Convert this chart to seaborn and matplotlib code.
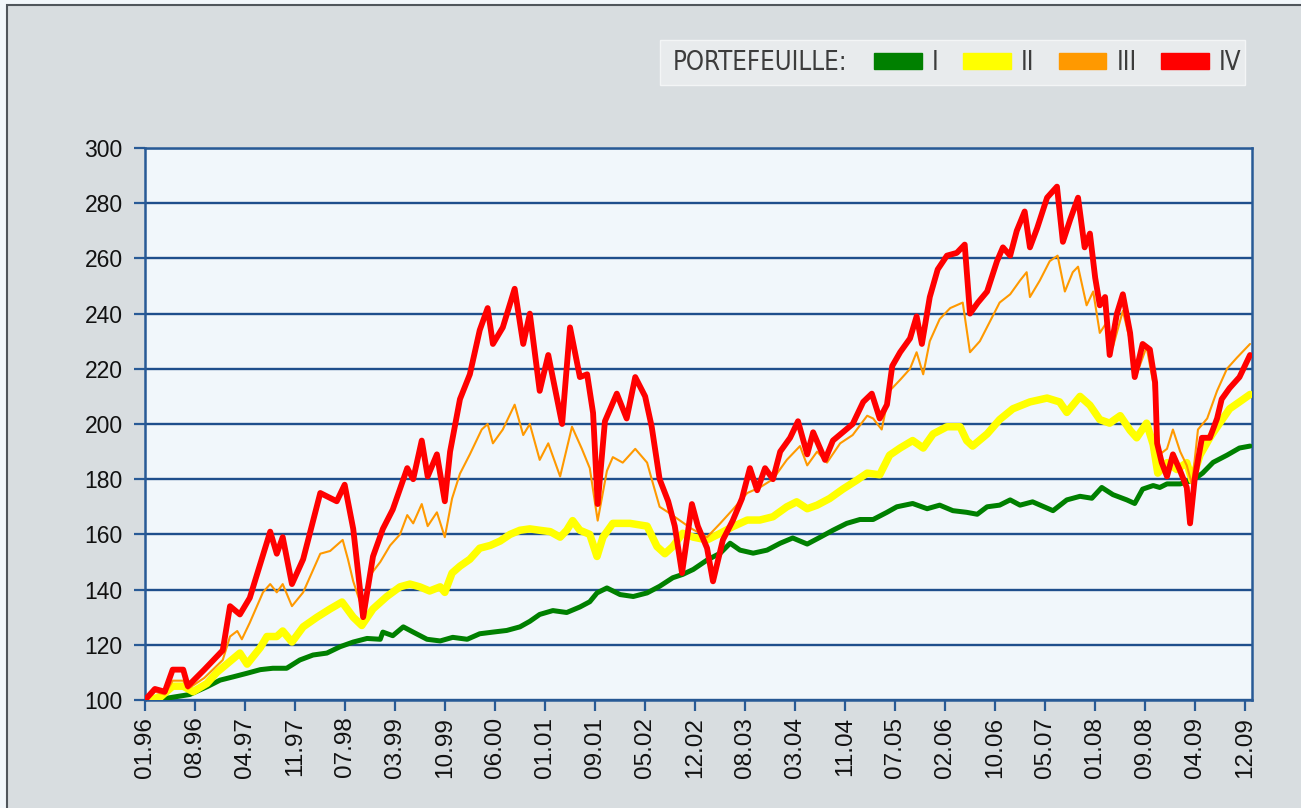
import matplotlib
matplotlib.use('Agg')
import matplotlib.pyplot as plt
from matplotlib.patches import Rectangle, Patch
from matplotlib.font_manager import FontProperties
import pandas as pd
import seaborn as sns

# values: month index since 01.96, index level (01.96 = 100)
red_m = [0, 1.5, 3, 4.2, 5.8, 6.5, 9, 11.8, 12.9, 14.4, 15.9, 19, 20, 20.9, 22.3, 24, 26.6, 29.1, 30.3, 31.6,
         33.1, 34.6, 36.1, 37.6, 39.8, 40.7, 42, 42.9, 44.3, 45.5, 46.3, 47.8, 49.3, 50.8, 52, 52.8, 54.3, 56.1,
         57.4, 58.4, 59.9, 61.2, 63.3, 64.5, 66, 67.1, 68, 68.7, 69.8, 71.6, 73.1, 74.4, 75.9, 76.9, 78.1, 79.4,
         80.4, 81.5, 83, 83.9, 85.3, 86.2, 87.7, 89.2, 90.6, 91.8, 92.9, 94.1, 95.3, 96.4, 97.9, 99.1, 100.5,
         101.4, 103.2, 104.4, 105.9, 107.4, 109, 110.3, 111.5, 112.6, 113.4, 114.6, 116.1, 117.1, 117.9, 119.1,
         120.3, 121.7, 123.2, 124.4, 125.2, 126.4, 127.8, 129.3, 130.2, 131.3, 132.3, 133.5, 134.3, 135.4, 136.9,
         138.4, 139.3, 140.4, 141.6, 142.6, 143.4, 144.2, 144.9, 145.7, 146.4, 147.5, 148.4, 149.5, 150.2, 151.4,
         152.5, 153.3, 153.6, 154.3, 155.1, 156, 157.1, 158.1, 158.6, 159.3, 160.4, 161.6, 162.7, 163.4, 164.6,
         166.1, 167.7]
red_v = [100, 104, 103, 111, 111, 105, 111, 118, 134, 131, 137, 161, 153, 159, 142, 151, 175, 172, 178, 162,
         130, 152, 162, 169, 184, 180, 194, 181, 189, 172, 190, 209, 218, 234, 242, 229, 235, 249,
         229, 240, 212, 225, 200, 235, 217, 218, 204, 171, 201, 211, 202, 217, 210, 199, 180, 172,
         163, 146, 171, 163, 155, 143, 158, 165, 173, 184, 176, 184, 180, 190, 195, 201, 189,
         197, 187, 194, 197, 200, 208, 211, 202, 207, 221, 226, 231, 239, 229, 246,
         256, 261, 262, 265, 240, 244, 248, 259, 264, 261, 270, 277, 264, 271, 282,
         286, 266, 274, 282, 264, 269, 253, 243, 246, 225, 240, 247, 233, 217, 229,
         227, 215, 193, 186, 181, 189, 183, 177, 164, 180, 195, 195, 202, 209, 213,
         217, 225]

orange_m = [0, 1.5, 3, 4.2, 5.8, 6.5, 9, 11.8, 12.9, 14, 14.7, 15.9, 17.9, 19, 20, 20.9, 22.3, 24, 26.6, 28.1,
            30, 30.8, 31.6, 33.4, 34.1, 35.7, 37.2, 38.7, 39.8, 40.7, 42, 42.9, 44.3, 45.5, 46.6, 47.8, 49.3,
            51.1, 52, 52.8, 54.3, 56.1, 57.4, 58.4, 59.9, 61.2, 63, 64.8, 66.3, 67.5, 68.7, 70.1, 71, 72.5,
            74.4, 76.2, 76.9, 78.1, 79.4, 81.2, 83, 85.3, 87.3, 89.2, 91.4, 93.3, 95.3, 97.4, 99.4, 100.5,
            102, 103.5, 105.5, 107.4, 109.6, 110.5, 111.8, 113, 114.6, 116.1, 117.1, 118.1, 119.1, 120.6,
            122.2, 124.1, 125.2, 126.7, 128.2, 129.7, 131.3, 132.8, 133.8, 134.3, 135.8, 137.3, 138.5, 139.6,
            140.8, 141.6, 142.9, 143.9, 144.9, 146, 146.9, 148.4, 149.5, 150.5, 152, 153, 154, 155.1, 156,
            157.1, 158.1, 158.9, 159.8, 161.2, 162.7, 164.2, 165.7, 167.7]
orange_v = [100, 103, 102, 107, 107, 104, 108, 114.5, 123, 125,
            122, 128, 139, 142, 139, 142, 134, 139, 153, 154,
            158, 151, 143, 130, 145, 150, 156, 160, 167, 164,
            171, 163, 168, 159, 173, 182, 189, 198, 200, 193,
            198, 207, 196, 200, 187, 193, 181, 199, 191, 184,
            165, 183, 188, 186, 191, 186, 180, 170, 168, 165,
            162, 159, 164, 169, 175, 177, 180, 187, 192, 185,
            190, 186, 193, 196, 203, 202, 198, 212, 216, 220,
            226, 218, 230, 238, 242, 244, 226, 230, 237, 244,
            247, 252, 255, 246, 252, 259, 261, 248, 255, 257,
            243, 248, 233, 237, 228, 241, 230, 218, 228, 215,
            189, 191, 198, 190, 185, 178, 198, 202, 212, 220,
            224, 229]

yellow_m = [0, 2.3, 4.2, 5.8, 7.3, 9.4, 10.9, 12.4, 14.4, 15.5, 17.5, 18.5, 20, 20.9, 22.3, 24, 26.1, 28.1,
            29.9, 31.6, 32.9, 34.6, 36.7, 38.7, 40.2, 41.7, 43.2, 44.8, 45.5, 46.6, 47.8, 49.3, 50.8, 52.4,
            53.9, 55.4, 56.9, 58.4, 59.9, 61.5, 63, 64, 64.9, 66, 67.5, 68.6, 69.5, 71, 73.6, 76.2, 77.7,
            78.9, 80.1, 81.6, 83.2, 85.3, 87.3, 89.2, 91.4, 93.3, 95.3, 97.4, 98.9, 100.5, 102, 103.9,
            105.9, 108, 109.6, 111.5, 113, 114.6, 116.5, 118.1, 119.6, 121.7, 123.7, 124.7, 125.6, 127.8,
            129.7, 131.7, 134.3, 136.9, 138.8, 139.9, 141.9, 143.4, 144.9, 146.4, 148, 149.5, 150.5, 152,
            153, 153.7, 155.1, 156.6, 158.1, 158.9, 160.1, 161.6, 163.1, 164.6, 166.1, 167.7]
yellow_v = [100, 101, 105, 105, 103, 106, 110, 113, 117, 113, 119, 123, 123, 125, 121, 126.5, 130, 133,
            135.5, 130, 127, 133, 137.5, 141, 142, 141, 139.5, 141, 139, 146, 148.5, 151, 155, 156,
            157.6, 160, 161.5, 162, 161.5, 161, 159, 161.5, 165, 161.5, 160, 152, 159, 164, 164, 163, 155.6,
            153, 155.6, 160.4, 159, 158, 160.4, 162.8, 165.2, 165.2, 166.4, 170, 171.8, 169.3, 170.6, 173,
            176.4, 179.6, 182.2, 181.6, 188.7, 191.3, 194, 191.3, 196.4, 199, 199, 194, 192, 196.4,
            201.6, 205.5, 208, 209.4, 208, 204.2, 210, 206.8, 201.6, 200.3, 203, 197.7, 195, 200.3,
            192.6, 182.2, 186, 183.5, 186, 179.6, 188.7, 195, 200.3, 205.5, 208, 210.7]

green_m = [0, 1.8, 4.2, 6.8, 9.4, 11.4, 13.4, 15.5, 17.5, 19.4, 21.5, 23.5, 25.5, 27.6, 29.6, 31.6, 33.7,
           35.7, 36.1, 37.6, 39.2, 40.7, 42.8, 44.8, 46.7, 48.9, 50.8, 52.8, 54.9, 56.9, 58.4, 59.9, 61.9,
           64, 66, 67.5, 68.6, 70.1, 72.1, 74.1, 76.2, 78.1, 80.1, 81.6, 83.2, 85.3, 87.3, 88.8, 90.3,
           92.3, 94.4, 96.4, 98.3, 100.5, 102.4, 104.4, 106.5, 108.5, 110.5, 112.6, 114.1, 116.5, 118.7,
           120.6, 122.6, 124.7, 126.3, 127.8, 129.7, 131.3, 132.8, 134.7, 137.8, 139.9, 141.9, 143.7,
           145.2, 146.9, 149, 150.2, 151.4, 153, 154, 155.1, 157.1, 159, 160.5, 162.1, 164.2, 166.1, 167.7]
green_v = [100, 100, 101, 102, 104.8, 107.2, 108.4, 109.7, 111, 111.5, 111.5, 114.5, 116.3, 117, 119.3, 121,
           122.3, 122, 124.6, 123.3, 126.5, 124.6, 122, 121.4, 122.7, 122, 124, 124.6, 125.2, 126.5, 128.5,
           131, 132.4, 131.7, 133.7, 135.6, 138.8, 140.6, 138.2, 137.5, 138.8, 141.2, 144.3, 145.5, 147.3,
           150.7, 153.2, 156.8, 154.3, 153.2, 154.3, 156.8, 158.7, 156.5, 158.9, 161.5, 164, 165.4, 165.4,
           168, 170, 171.2, 169.3, 170.6, 168.6, 168, 167.3, 170, 170.6, 172.5, 170.6, 171.8, 168.6, 172.5,
           173.8, 173.1, 177, 174.4, 172.5, 171.2, 176.4, 177.7, 177, 178.3, 178.3, 179.6, 182.2, 186.1,
           188.7, 191.3, 192]

tick_labels = ['01.96', '08.96', '04.97', '11.97', '07.98', '03.99', '10.99', '06.00', '01.01', '09.01',
               '05.02', '12.02', '08.03', '03.04', '11.04', '07.05', '02.06', '10.06', '05.07', '01.08',
               '09.08', '04.09', '12.09']
last_month = 167

portfolios = ['I', 'II', 'III', 'IV']
colours = {'I': '#008000', 'II': '#ffff00', 'III': '#ff9900', 'IV': '#ff0000'}
widths = {'I': 3.6, 'II': 5.4, 'III': 1.5, 'IV': 4.2}

df = pd.concat([
    pd.DataFrame({'month': green_m, 'value': green_v, 'portfolio': 'I'}),
    pd.DataFrame({'month': yellow_m, 'value': yellow_v, 'portfolio': 'II'}),
    pd.DataFrame({'month': orange_m, 'value': orange_v, 'portfolio': 'III'}),
    pd.DataFrame({'month': red_m, 'value': red_v, 'portfolio': 'IV'}),
], ignore_index=True)

sns.set_theme(style='white')
plt.rcParams['font.family'] = ['Liberation Sans', 'DejaVu Sans']

W, H = 1301, 808
fig = plt.figure(figsize=(W / 100, H / 100), dpi=100, facecolor='#f2f7fb')
# grey panel with dark frame, drawn beneath the axes
fig.patches.append(Rectangle((7 / W, -0.01), 1.0, 1 - 5 / H + 0.01, transform=fig.transFigure,
                             facecolor='#d8dde0', edgecolor='#50565c', lw=1.5, zorder=-10))

ax = fig.add_axes([145 / W, 108 / H, (1252 - 145) / W, (700 - 148) / H])
ax.set_facecolor('#f1f7fb')

for name in portfolios:
    sns.lineplot(data=df[df['portfolio'] == name], x='month', y='value', color=colours[name],
                 lw=widths[name], sort=False, estimator=None, ax=ax, legend=False, zorder=3)

blue = '#285a96'
ax.set_xlim(0, 168)
ax.set_ylim(100, 300)
ax.set_yticks(range(100, 301, 20))
ax.set_xticks([i * last_month / 22 for i in range(23)], tick_labels, rotation=90)
ax.yaxis.grid(True, color='#1f4f8c', lw=1.7)
ax.xaxis.grid(False)
ax.set_axisbelow(True)
ax.set_xlabel('')
ax.set_ylabel('')
for s in ax.spines.values():
    s.set_color(blue)
    s.set_linewidth(1.8)
ax.tick_params(axis='both', direction='out', length=8, width=1.6, color=blue,
               labelcolor='#111111')
ax.tick_params(axis='y', pad=8, labelsize=16.5)
ax.tick_params(axis='x', pad=4, labelsize=17.5)
ax.tick_params(bottom=True, left=True)

# legend strip
fig.patches.append(Rectangle((660 / W, 1 - 85 / H), (1245 - 660) / W, 45 / H, transform=fig.transFigure,
                             facecolor='#e8ebed', edgecolor='#f3f5f6', lw=1, zorder=-5))
lfont = FontProperties(family='DejaVu Sans', stretch='condensed', size=18.5)
fig.text(673 / W, 1 - 63 / H, 'PORTEFEUILLE:', ha='left', va='center', fontproperties=lfont,
         color='#3c3c3c')
handles = [Patch(facecolor=colours[p], edgecolor=colours[p]) for p in portfolios]
leg = fig.legend(handles, portfolios, loc='center left', bbox_to_anchor=(851 / W, 1 - 63 / H),
                 ncol=4, frameon=False, prop=lfont, handlelength=1.85, handleheight=0.6,
                 handletextpad=0.4, columnspacing=0.95, labelcolor='#3c3c3c')

fig.savefig('out.png', dpi=100, facecolor=fig.get_facecolor())
